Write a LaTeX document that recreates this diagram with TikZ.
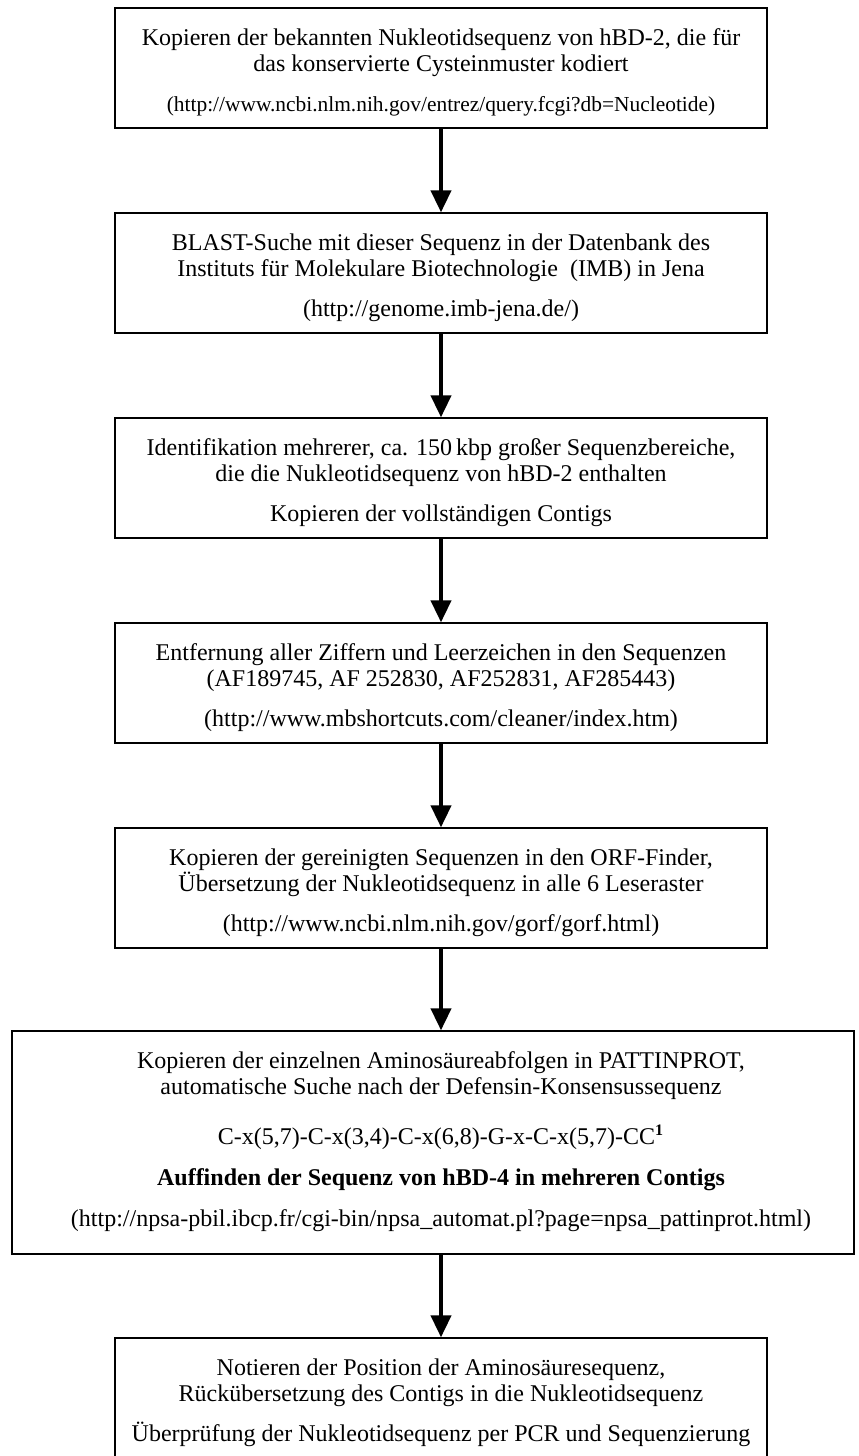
\documentclass[tikz,border=0pt]{standalone}
\usepackage{fontspec}
\setmainfont{Liberation Serif}
\usetikzlibrary{arrows.meta}
\begin{document}
\begin{tikzpicture}[x=0.5pt,y=-0.5pt,
  box/.style={draw, line width=0.65pt, inner sep=0pt, minimum width=326pt, minimum height=60pt},
  txt/.style={anchor=base, inner sep=0pt, font=\fontsize{12}{14}\selectfont},
  arr/.style={line width=2pt, -{Triangle[width=10pt,length=11pt]}}]
\useasboundingbox (0,0) rectangle (858,1456);

% boxes
\node[box] (b1) at (441,68) {};
\node[box] (b2) at (441,273) {};
\node[box] (b3) at (441,478) {};
\node[box] (b4) at (441,683) {};
\node[box] (b5) at (441,888) {};
\node[box, minimum width=421pt, minimum height=111.5pt] (b6) at (433,1142.5) {};
\node[box] (b7) at (441,1398) {};

% texts box 1
\node[txt] (t1a) at (441,45) {Kopieren der bekannten Nukleotidsequenz von hBD-2, die für};
\node[txt] (t1b) at (441,71) {das konservierte Cysteinmuster kodiert};
\node[txt, font=\fontsize{10.7}{13}\selectfont] (t1c) at (441,111) {(http://www.ncbi.nlm.nih.gov/entrez/query.fcgi?db=Nucleotide)};

% box 2
\node[txt] (t2a) at (441,250) {BLAST-Suche mit dieser Sequenz in der Datenbank des};
\node[txt] (t2b) at (441,276) {Instituts für Molekulare Biotechnologie~ (IMB) in Jena};
\node[txt] (t2c) at (441,316) {(http://genome.imb-jena.de/)};

% box 3
\node[txt] (t3a) at (441,455) {Identifikation mehrerer, ca. 150\,kbp großer Sequenzbereiche,};
\node[txt] (t3b) at (441,481) {die die Nukleotidsequenz von hBD-2 enthalten};
\node[txt] (t3c) at (441,521) {Kopieren der vollständigen Contigs};

% box 4
\node[txt] (t4a) at (441,660) {Entfernung aller Ziffern und Leerzeichen in den Sequenzen};
\node[txt] (t4b) at (441,686) {(AF189745, AF 252830, AF252831, AF285443)};
\node[txt] (t4c) at (441,726) {(http://www.mbshortcuts.com/cleaner/index.htm)};

% box 5
\node[txt] (t5a) at (441,865) {Kopieren der gereinigten Sequenzen in den ORF-Finder,};
\node[txt] (t5b) at (441,891) {Übersetzung der Nukleotidsequenz in alle 6 Leseraster};
\node[txt] (t5c) at (441,931) {(http://www.ncbi.nlm.nih.gov/gorf/gorf.html)};

% box 6
\node[txt] (t6a) at (441,1068) {Kopieren der einzelnen Aminosäureabfolgen in PATTINPROT,};
\node[txt] (t6b) at (441,1094) {automatische Suche nach der Defensin-Konsensussequenz};
\node[txt] (t6c) at (441,1144) {C-x(5,7)-C-x(3,4)-C-x(6,8)-G-x-C-x(5,7)-CC\textsuperscript{\textbf{1}}};
\node[txt, font=\fontsize{12}{14}\selectfont\bfseries] (t6d) at (441,1185) {Auffinden der Sequenz von hBD-4 in mehreren Contigs};
\node[txt] (t6e) at (441,1226) {(http://npsa-pbil.ibcp.fr/cgi-bin/npsa\_automat.pl?page=npsa\_pattinprot.html)};

% box 7
\node[txt] (t7a) at (441,1375) {Notieren der Position der Aminosäuresequenz,};
\node[txt] (t7b) at (441,1401) {Rückübersetzung des Contigs in die Nukleotidsequenz};
\node[txt] (t7c) at (441,1441) {Überprüfung der Nukleotidsequenz per PCR und Sequenzierung};

% arrows
\draw[arr] (b1.south) -- (b2.north);
\draw[arr] (b2.south) -- (b3.north);
\draw[arr] (b3.south) -- (b4.north);
\draw[arr] (b4.south) -- (b5.north);
\draw[arr] (b5.south) -- (b5.south |- b6.north);
\draw[arr] (b5.south |- b6.south) -- (b7.north);
\end{tikzpicture}
\end{document}
